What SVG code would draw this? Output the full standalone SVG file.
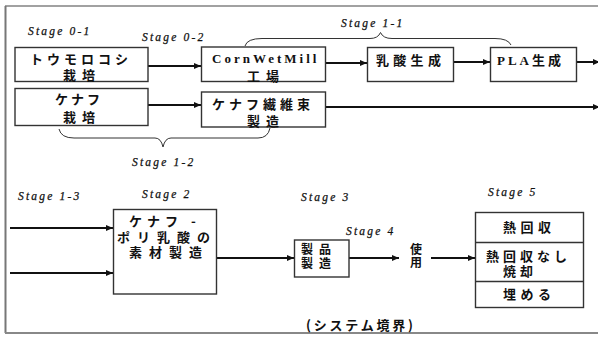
<svg xmlns="http://www.w3.org/2000/svg" width="598" height="338" viewBox="0 0 598 338">
<defs>
<marker id="ah" markerUnits="userSpaceOnUse" markerWidth="7" markerHeight="6" refX="7" refY="3" orient="auto">
<path d="M0,0 L7,3 L0,6 z" fill="#111"/>
</marker>
<style>
.box{fill:#fff;stroke:#333;stroke-width:1.4}
.jp{font-family:"Noto Sans CJK JP","Noto Sans CJK SC",sans-serif;font-weight:bold;font-size:13px;fill:#111}
.sr{font-family:"Liberation Serif",serif;font-weight:bold;font-size:13px;fill:#111}
.st{font-family:"Liberation Serif",serif;font-style:italic;font-size:11.5px;letter-spacing:2.2px;fill:#111;stroke:#111;stroke-width:0.25}
.ar{stroke:#111;stroke-width:2;fill:none;marker-end:url(#ah)}
.br{stroke:#333;stroke-width:1;fill:none}
</style>
</defs>
<rect width="598" height="338" fill="#fff"/>
<g id="frame">
<line x1="5" y1="6" x2="598" y2="6" stroke="#444" stroke-width="1.2"/>
<line x1="5.5" y1="6" x2="5.5" y2="333" stroke="#777" stroke-width="2"/>
<line x1="5" y1="333" x2="598" y2="333" stroke="#888" stroke-width="2"/>
</g>
<g id="labels">
<text class="st" x="28" y="35">Stage 0-1</text>
<text class="st" x="142" y="41">Stage 0-2</text>
<text class="st" x="341" y="27">Stage 1-1</text>
<text class="st" x="132" y="166">Stage 1-2</text>
<text class="st" x="18" y="200">Stage 1-3</text>
<text class="st" x="142" y="198">Stage 2</text>
<text class="st" x="301" y="201">Stage 3</text>
<text class="st" x="346" y="235">Stage 4</text>
<text class="st" x="488" y="196">Stage 5</text>
<text class="jp" x="306" y="329.5" style="letter-spacing:2.8px">(システム境界)</text>
</g>
<g id="connectors">
<line class="ar" x1="148" y1="66" x2="201" y2="66"/>
<line class="ar" x1="148" y1="105" x2="201" y2="105"/>
<line class="ar" x1="325" y1="63" x2="367" y2="63"/>
<line class="ar" x1="454" y1="62" x2="490" y2="62"/>
<line class="ar" x1="576" y1="62" x2="600" y2="62"/>
<line class="ar" x1="325" y1="107" x2="600" y2="107"/>
<line class="ar" x1="10" y1="228" x2="113" y2="228"/>
<line class="ar" x1="10" y1="273" x2="113" y2="273"/>
<line class="ar" x1="217" y1="258" x2="294" y2="258"/>
<line class="ar" x1="349" y1="258" x2="399" y2="258"/>
<line class="ar" x1="431" y1="258" x2="475" y2="258"/>
<path class="br" d="M245,46 Q247,38.5 262,38.5 L370,38.5 Q378,38.5 380.5,32.5 Q383,38.5 392,38.5 L495,38.5 Q508,38.5 511,45"/>
<path class="br" d="M59,129 Q61,138 74,138 L155,138 Q161,138 163,147 Q165,138 171,138 L258,138 Q268,138 270,128"/>
</g>
<g id="n-corn">
<rect class="box" x="15" y="47.5" width="133" height="34"/>
<text class="jp" x="30" y="64" style="letter-spacing:4px">トウモロコシ</text>
<text class="jp" x="63" y="80" style="letter-spacing:6px">栽培</text>
</g>
<g id="n-kenaf">
<rect class="box" x="15" y="88.5" width="133" height="37"/>
<text class="jp" x="55" y="104" style="letter-spacing:3px">ケナフ</text>
<text class="jp" x="63" y="122" style="letter-spacing:6px">栽培</text>
</g>
<g id="n-cwm">
<rect class="box" x="201.5" y="47" width="124" height="34.5"/>
<text class="sr" x="212" y="63" style="letter-spacing:3px">CornWetMill</text>
<text class="jp" x="247" y="80.5" style="letter-spacing:6px">工場</text>
</g>
<g id="n-fiber">
<rect class="box" x="201.5" y="92" width="124" height="35"/>
<text class="jp" x="212" y="109" style="letter-spacing:4px">ケナフ繊維束</text>
<text class="jp" x="247" y="126" style="letter-spacing:6px">製造</text>
</g>
<g id="n-lactic">
<rect class="box" x="367.5" y="47.5" width="86" height="34"/>
<text class="jp" x="376" y="64.5" style="letter-spacing:4.3px">乳酸生成</text>
</g>
<g id="n-pla">
<rect class="box" x="490.5" y="47.5" width="86" height="34"/>
<text x="497" y="64.5" style="letter-spacing:3px"><tspan class="sr">PLA</tspan><tspan class="jp">生成</tspan></text>
</g>
<g id="n-material">
<rect class="box" x="113.5" y="209.5" width="103" height="84.5"/>
<text class="jp" x="129" y="226" style="letter-spacing:5px">ケナフ -</text>
<text class="jp" x="117" y="241.5" style="letter-spacing:7px">ポリ乳酸の</text>
<text class="jp" x="129" y="257" style="letter-spacing:7px">素材製造</text>
</g>
<g id="n-product">
<rect class="box" x="294.5" y="240" width="54.5" height="37"/>
<text class="jp" x="301" y="254" style="font-size:12px;letter-spacing:6px">製品</text>
<text class="jp" x="301" y="268" style="font-size:12px;letter-spacing:6px">製造</text>
</g>
<g id="n-use">
<text class="jp" x="410" y="254" style="font-size:12px">使</text>
<text class="jp" x="410" y="267" style="font-size:12px">用</text>
</g>
<g id="n-end">
<rect class="box" x="475.5" y="212.5" width="108" height="95"/>
<line x1="475.5" y1="242.5" x2="583.5" y2="242.5" stroke="#333" stroke-width="1.4"/>
<line x1="475.5" y1="281.5" x2="583.5" y2="281.5" stroke="#333" stroke-width="1.4"/>
<text class="jp" x="503" y="231.5" style="letter-spacing:4.5px">熱回収</text>
<text class="jp" x="486" y="260.5" style="letter-spacing:4px">熱回収なし</text>
<text class="jp" x="503" y="275.5" style="letter-spacing:4px">焼却</text>
<text class="jp" x="503" y="299" style="letter-spacing:4.5px">埋める</text>
</g>
</svg>
